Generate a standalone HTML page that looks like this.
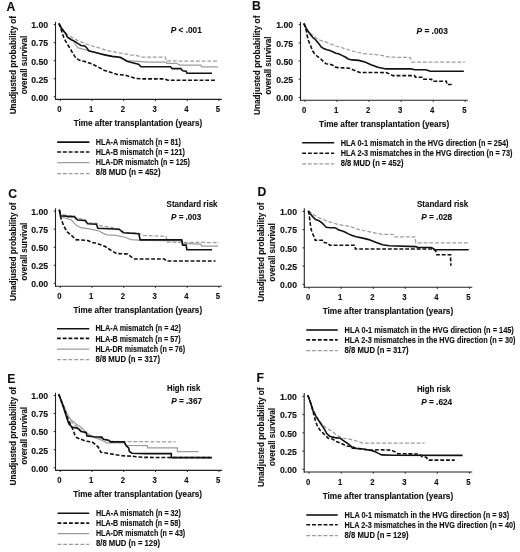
<!DOCTYPE html>
<html><head><meta charset="utf-8"><style>
html,body{margin:0;padding:0;background:#fff;}
svg{display:block;}
text{font-family:"Liberation Sans", sans-serif;fill:#111;stroke:#111;stroke-width:0.12px;}
svg{will-change:transform;}
</style></head><body>
<svg width="520" height="552" viewBox="0 0 520 552">
<rect width="520" height="552" fill="#fff"/>
<text x="6.60" y="10.70" font-size="12.2" font-weight="bold">A</text>
<text x="252.00" y="9.80" font-size="12.2" font-weight="bold">B</text>
<text x="8.30" y="197.60" font-size="12.2" font-weight="bold">C</text>
<text x="257.40" y="195.60" font-size="12.2" font-weight="bold">D</text>
<text x="7.30" y="382.80" font-size="12.2" font-weight="bold">E</text>
<text x="256.40" y="382.00" font-size="12.2" font-weight="bold">F</text>
<text transform="translate(15.90,114.30) rotate(-90)" x="0" y="0" font-size="8.6" font-weight="bold" textLength="98.30" lengthAdjust="spacingAndGlyphs">Unadjusted probability of</text>
<text transform="translate(26.90,94.30) rotate(-90)" x="0" y="0" font-size="8.6" font-weight="bold" textLength="58.50" lengthAdjust="spacingAndGlyphs">overall survival</text>
<text transform="translate(260.30,115.00) rotate(-90)" x="0" y="0" font-size="8.6" font-weight="bold" textLength="99.40" lengthAdjust="spacingAndGlyphs">Unadjusted probability of</text>
<text transform="translate(270.50,94.60) rotate(-90)" x="0" y="0" font-size="8.6" font-weight="bold" textLength="58.00" lengthAdjust="spacingAndGlyphs">overall survival</text>
<text transform="translate(15.90,301.00) rotate(-90)" x="0" y="0" font-size="8.6" font-weight="bold" textLength="98.50" lengthAdjust="spacingAndGlyphs">Unadjusted probability of</text>
<text transform="translate(26.90,280.50) rotate(-90)" x="0" y="0" font-size="8.6" font-weight="bold" textLength="57.80" lengthAdjust="spacingAndGlyphs">overall survival</text>
<text transform="translate(264.30,301.80) rotate(-90)" x="0" y="0" font-size="8.6" font-weight="bold" textLength="99.30" lengthAdjust="spacingAndGlyphs">Unadjusted probability of</text>
<text transform="translate(275.30,281.40) rotate(-90)" x="0" y="0" font-size="8.6" font-weight="bold" textLength="58.20" lengthAdjust="spacingAndGlyphs">overall survival</text>
<text transform="translate(15.90,485.50) rotate(-90)" x="0" y="0" font-size="8.6" font-weight="bold" textLength="98.60" lengthAdjust="spacingAndGlyphs">Unadjusted probability of</text>
<text transform="translate(26.90,464.50) rotate(-90)" x="0" y="0" font-size="8.6" font-weight="bold" textLength="57.50" lengthAdjust="spacingAndGlyphs">overall survival</text>
<text transform="translate(264.30,487.00) rotate(-90)" x="0" y="0" font-size="8.6" font-weight="bold" textLength="99.60" lengthAdjust="spacingAndGlyphs">Unadjusted probability of</text>
<text transform="translate(275.30,466.10) rotate(-90)" x="0" y="0" font-size="8.6" font-weight="bold" textLength="58.00" lengthAdjust="spacingAndGlyphs">overall survival</text>
<text x="31.30" y="100.60" font-size="8.3" font-weight="bold" textLength="16.90" lengthAdjust="spacingAndGlyphs">0.00</text>
<text x="31.30" y="82.55" font-size="8.3" font-weight="bold" textLength="16.90" lengthAdjust="spacingAndGlyphs">0.25</text>
<text x="31.30" y="64.50" font-size="8.3" font-weight="bold" textLength="16.90" lengthAdjust="spacingAndGlyphs">0.50</text>
<text x="31.30" y="46.45" font-size="8.3" font-weight="bold" textLength="16.90" lengthAdjust="spacingAndGlyphs">0.75</text>
<text x="31.30" y="28.40" font-size="8.3" font-weight="bold" textLength="16.90" lengthAdjust="spacingAndGlyphs">1.00</text>
<text x="57.25" y="112.40" font-size="8.3" font-weight="bold" textLength="4.30" lengthAdjust="spacingAndGlyphs">0</text>
<text x="88.97" y="112.40" font-size="8.3" font-weight="bold" textLength="4.30" lengthAdjust="spacingAndGlyphs">1</text>
<text x="120.69" y="112.40" font-size="8.3" font-weight="bold" textLength="4.30" lengthAdjust="spacingAndGlyphs">2</text>
<text x="152.41" y="112.40" font-size="8.3" font-weight="bold" textLength="4.30" lengthAdjust="spacingAndGlyphs">3</text>
<text x="184.13" y="112.40" font-size="8.3" font-weight="bold" textLength="4.30" lengthAdjust="spacingAndGlyphs">4</text>
<text x="215.85" y="112.40" font-size="8.3" font-weight="bold" textLength="4.30" lengthAdjust="spacingAndGlyphs">5</text>
<text x="276.30" y="101.20" font-size="8.3" font-weight="bold" textLength="16.90" lengthAdjust="spacingAndGlyphs">0.00</text>
<text x="276.30" y="83.00" font-size="8.3" font-weight="bold" textLength="16.90" lengthAdjust="spacingAndGlyphs">0.25</text>
<text x="276.30" y="64.80" font-size="8.3" font-weight="bold" textLength="16.90" lengthAdjust="spacingAndGlyphs">0.50</text>
<text x="276.30" y="46.60" font-size="8.3" font-weight="bold" textLength="16.90" lengthAdjust="spacingAndGlyphs">0.75</text>
<text x="276.30" y="28.40" font-size="8.3" font-weight="bold" textLength="16.90" lengthAdjust="spacingAndGlyphs">1.00</text>
<text x="301.95" y="113.30" font-size="8.3" font-weight="bold" textLength="4.30" lengthAdjust="spacingAndGlyphs">0</text>
<text x="333.99" y="113.30" font-size="8.3" font-weight="bold" textLength="4.30" lengthAdjust="spacingAndGlyphs">1</text>
<text x="366.03" y="113.30" font-size="8.3" font-weight="bold" textLength="4.30" lengthAdjust="spacingAndGlyphs">2</text>
<text x="398.07" y="113.30" font-size="8.3" font-weight="bold" textLength="4.30" lengthAdjust="spacingAndGlyphs">3</text>
<text x="430.11" y="113.30" font-size="8.3" font-weight="bold" textLength="4.30" lengthAdjust="spacingAndGlyphs">4</text>
<text x="462.15" y="113.30" font-size="8.3" font-weight="bold" textLength="4.30" lengthAdjust="spacingAndGlyphs">5</text>
<text x="31.30" y="287.10" font-size="8.3" font-weight="bold" textLength="16.90" lengthAdjust="spacingAndGlyphs">0.00</text>
<text x="31.30" y="269.07" font-size="8.3" font-weight="bold" textLength="16.90" lengthAdjust="spacingAndGlyphs">0.25</text>
<text x="31.30" y="251.05" font-size="8.3" font-weight="bold" textLength="16.90" lengthAdjust="spacingAndGlyphs">0.50</text>
<text x="31.30" y="233.03" font-size="8.3" font-weight="bold" textLength="16.90" lengthAdjust="spacingAndGlyphs">0.75</text>
<text x="31.30" y="215.00" font-size="8.3" font-weight="bold" textLength="16.90" lengthAdjust="spacingAndGlyphs">1.00</text>
<text x="57.25" y="299.20" font-size="8.3" font-weight="bold" textLength="4.30" lengthAdjust="spacingAndGlyphs">0</text>
<text x="88.97" y="299.20" font-size="8.3" font-weight="bold" textLength="4.30" lengthAdjust="spacingAndGlyphs">1</text>
<text x="120.69" y="299.20" font-size="8.3" font-weight="bold" textLength="4.30" lengthAdjust="spacingAndGlyphs">2</text>
<text x="152.41" y="299.20" font-size="8.3" font-weight="bold" textLength="4.30" lengthAdjust="spacingAndGlyphs">3</text>
<text x="184.13" y="299.20" font-size="8.3" font-weight="bold" textLength="4.30" lengthAdjust="spacingAndGlyphs">4</text>
<text x="215.85" y="299.20" font-size="8.3" font-weight="bold" textLength="4.30" lengthAdjust="spacingAndGlyphs">5</text>
<text x="280.10" y="288.10" font-size="8.3" font-weight="bold" textLength="16.90" lengthAdjust="spacingAndGlyphs">0.00</text>
<text x="280.10" y="269.88" font-size="8.3" font-weight="bold" textLength="16.90" lengthAdjust="spacingAndGlyphs">0.25</text>
<text x="280.10" y="251.65" font-size="8.3" font-weight="bold" textLength="16.90" lengthAdjust="spacingAndGlyphs">0.50</text>
<text x="280.10" y="233.43" font-size="8.3" font-weight="bold" textLength="16.90" lengthAdjust="spacingAndGlyphs">0.75</text>
<text x="280.10" y="215.20" font-size="8.3" font-weight="bold" textLength="16.90" lengthAdjust="spacingAndGlyphs">1.00</text>
<text x="306.05" y="300.20" font-size="8.3" font-weight="bold" textLength="4.30" lengthAdjust="spacingAndGlyphs">0</text>
<text x="338.11" y="300.20" font-size="8.3" font-weight="bold" textLength="4.30" lengthAdjust="spacingAndGlyphs">1</text>
<text x="370.17" y="300.20" font-size="8.3" font-weight="bold" textLength="4.30" lengthAdjust="spacingAndGlyphs">2</text>
<text x="402.23" y="300.20" font-size="8.3" font-weight="bold" textLength="4.30" lengthAdjust="spacingAndGlyphs">3</text>
<text x="434.29" y="300.20" font-size="8.3" font-weight="bold" textLength="4.30" lengthAdjust="spacingAndGlyphs">4</text>
<text x="466.35" y="300.20" font-size="8.3" font-weight="bold" textLength="4.30" lengthAdjust="spacingAndGlyphs">5</text>
<text x="31.30" y="471.60" font-size="8.3" font-weight="bold" textLength="16.90" lengthAdjust="spacingAndGlyphs">0.00</text>
<text x="31.30" y="453.50" font-size="8.3" font-weight="bold" textLength="16.90" lengthAdjust="spacingAndGlyphs">0.25</text>
<text x="31.30" y="435.40" font-size="8.3" font-weight="bold" textLength="16.90" lengthAdjust="spacingAndGlyphs">0.50</text>
<text x="31.30" y="417.30" font-size="8.3" font-weight="bold" textLength="16.90" lengthAdjust="spacingAndGlyphs">0.75</text>
<text x="31.30" y="399.20" font-size="8.3" font-weight="bold" textLength="16.90" lengthAdjust="spacingAndGlyphs">1.00</text>
<text x="57.25" y="483.40" font-size="8.3" font-weight="bold" textLength="4.30" lengthAdjust="spacingAndGlyphs">0</text>
<text x="89.01" y="483.40" font-size="8.3" font-weight="bold" textLength="4.30" lengthAdjust="spacingAndGlyphs">1</text>
<text x="120.77" y="483.40" font-size="8.3" font-weight="bold" textLength="4.30" lengthAdjust="spacingAndGlyphs">2</text>
<text x="152.53" y="483.40" font-size="8.3" font-weight="bold" textLength="4.30" lengthAdjust="spacingAndGlyphs">3</text>
<text x="184.29" y="483.40" font-size="8.3" font-weight="bold" textLength="4.30" lengthAdjust="spacingAndGlyphs">4</text>
<text x="216.05" y="483.40" font-size="8.3" font-weight="bold" textLength="4.30" lengthAdjust="spacingAndGlyphs">5</text>
<text x="280.00" y="473.10" font-size="8.3" font-weight="bold" textLength="16.90" lengthAdjust="spacingAndGlyphs">0.00</text>
<text x="280.00" y="454.88" font-size="8.3" font-weight="bold" textLength="16.90" lengthAdjust="spacingAndGlyphs">0.25</text>
<text x="280.00" y="436.65" font-size="8.3" font-weight="bold" textLength="16.90" lengthAdjust="spacingAndGlyphs">0.50</text>
<text x="280.00" y="418.43" font-size="8.3" font-weight="bold" textLength="16.90" lengthAdjust="spacingAndGlyphs">0.75</text>
<text x="280.00" y="400.20" font-size="8.3" font-weight="bold" textLength="16.90" lengthAdjust="spacingAndGlyphs">1.00</text>
<text x="306.05" y="485.00" font-size="8.3" font-weight="bold" textLength="4.30" lengthAdjust="spacingAndGlyphs">0</text>
<text x="338.11" y="485.00" font-size="8.3" font-weight="bold" textLength="4.30" lengthAdjust="spacingAndGlyphs">1</text>
<text x="370.17" y="485.00" font-size="8.3" font-weight="bold" textLength="4.30" lengthAdjust="spacingAndGlyphs">2</text>
<text x="402.23" y="485.00" font-size="8.3" font-weight="bold" textLength="4.30" lengthAdjust="spacingAndGlyphs">3</text>
<text x="434.29" y="485.00" font-size="8.3" font-weight="bold" textLength="4.30" lengthAdjust="spacingAndGlyphs">4</text>
<text x="466.35" y="485.00" font-size="8.3" font-weight="bold" textLength="4.30" lengthAdjust="spacingAndGlyphs">5</text>
<text x="73.70" y="125.90" font-size="8.8" font-weight="bold" textLength="128.50" lengthAdjust="spacingAndGlyphs">Time after transplantation (years)</text>
<text x="319.00" y="126.80" font-size="8.8" font-weight="bold" textLength="130.20" lengthAdjust="spacingAndGlyphs">Time after transplantation (years)</text>
<text x="73.50" y="312.70" font-size="8.8" font-weight="bold" textLength="128.60" lengthAdjust="spacingAndGlyphs">Time after transplantation (years)</text>
<text x="322.70" y="313.70" font-size="8.8" font-weight="bold" textLength="130.50" lengthAdjust="spacingAndGlyphs">Time after transplantation (years)</text>
<text x="73.20" y="496.90" font-size="8.8" font-weight="bold" textLength="128.90" lengthAdjust="spacingAndGlyphs">Time after transplantation (years)</text>
<text x="322.70" y="498.50" font-size="8.8" font-weight="bold" textLength="130.50" lengthAdjust="spacingAndGlyphs">Time after transplantation (years)</text>
<text x="170.75" y="33.40" font-size="8.6" font-weight="bold" textLength="31.00" lengthAdjust="spacingAndGlyphs"><tspan font-style="italic">P</tspan> &lt; .001</text>
<text x="416.50" y="33.80" font-size="8.6" font-weight="bold" textLength="31.40" lengthAdjust="spacingAndGlyphs"><tspan font-style="italic">P</tspan> = .003</text>
<text x="166.60" y="206.60" font-size="8.6" font-weight="bold" textLength="50.90" lengthAdjust="spacingAndGlyphs">Standard risk</text>
<text x="171.00" y="219.60" font-size="8.6" font-weight="bold" textLength="30.40" lengthAdjust="spacingAndGlyphs"><tspan font-style="italic">P</tspan> = .003</text>
<text x="416.90" y="207.10" font-size="8.6" font-weight="bold" textLength="51.40" lengthAdjust="spacingAndGlyphs">Standard risk</text>
<text x="421.20" y="220.30" font-size="8.6" font-weight="bold" textLength="31.00" lengthAdjust="spacingAndGlyphs"><tspan font-style="italic">P</tspan> = .028</text>
<text x="167.10" y="391.30" font-size="8.6" font-weight="bold" textLength="33.10" lengthAdjust="spacingAndGlyphs">High risk</text>
<text x="171.20" y="403.90" font-size="8.6" font-weight="bold" textLength="30.90" lengthAdjust="spacingAndGlyphs"><tspan font-style="italic">P</tspan> = .367</text>
<text x="416.90" y="391.60" font-size="8.6" font-weight="bold" textLength="33.60" lengthAdjust="spacingAndGlyphs">High risk</text>
<text x="421.20" y="404.80" font-size="8.6" font-weight="bold" textLength="31.00" lengthAdjust="spacingAndGlyphs"><tspan font-style="italic">P</tspan> = .624</text>
<line x1="57.20" y1="142.10" x2="89.40" y2="142.10" stroke="#111" stroke-width="1.6"/>
<text x="95.80" y="145.10" font-size="8.5" font-weight="bold" textLength="85.20" lengthAdjust="spacingAndGlyphs">HLA-A mismatch (n = 81)</text>
<line x1="57.20" y1="152.00" x2="89.40" y2="152.00" stroke="#111" stroke-width="1.6" stroke-dasharray="3.85 1.9"/>
<text x="95.80" y="154.90" font-size="8.5" font-weight="bold" textLength="89.00" lengthAdjust="spacingAndGlyphs">HLA-B mismatch (n = 121)</text>
<line x1="57.20" y1="162.60" x2="89.40" y2="162.60" stroke="#9c9c9c" stroke-width="1.25"/>
<text x="95.80" y="164.80" font-size="8.5" font-weight="bold" textLength="94.20" lengthAdjust="spacingAndGlyphs">HLA-DR mismatch (n = 125)</text>
<line x1="57.20" y1="173.50" x2="89.40" y2="173.50" stroke="#9c9c9c" stroke-width="1.25" stroke-dasharray="3.85 1.9"/>
<text x="95.80" y="174.80" font-size="8.5" font-weight="bold" textLength="64.70" lengthAdjust="spacingAndGlyphs">8/8 MUD (n = 452)</text>
<line x1="302.20" y1="142.80" x2="334.20" y2="142.80" stroke="#111" stroke-width="1.6"/>
<text x="340.70" y="145.80" font-size="8.5" font-weight="bold" textLength="167.80" lengthAdjust="spacingAndGlyphs">HLA 0-1 mismatch in the HVG direction (n = 254)</text>
<line x1="302.20" y1="153.30" x2="334.20" y2="153.30" stroke="#111" stroke-width="1.6" stroke-dasharray="3.85 1.9"/>
<text x="340.70" y="155.80" font-size="8.5" font-weight="bold" textLength="171.70" lengthAdjust="spacingAndGlyphs">HLA 2-3 mismatches in the HVG direction (n = 73)</text>
<line x1="302.20" y1="163.90" x2="334.20" y2="163.90" stroke="#9c9c9c" stroke-width="1.25" stroke-dasharray="3.85 1.9"/>
<text x="340.70" y="166.20" font-size="8.5" font-weight="bold" textLength="62.80" lengthAdjust="spacingAndGlyphs">8/8 MUD (n = 452)</text>
<line x1="57.00" y1="328.70" x2="89.20" y2="328.70" stroke="#111" stroke-width="1.6"/>
<text x="95.40" y="331.40" font-size="8.5" font-weight="bold" textLength="85.60" lengthAdjust="spacingAndGlyphs">HLA-A mismatch (n = 42)</text>
<line x1="57.00" y1="338.40" x2="89.20" y2="338.40" stroke="#111" stroke-width="1.6" stroke-dasharray="3.85 1.9"/>
<text x="95.40" y="342.00" font-size="8.5" font-weight="bold" textLength="85.20" lengthAdjust="spacingAndGlyphs">HLA-B mismatch (n = 57)</text>
<line x1="57.00" y1="349.00" x2="89.20" y2="349.00" stroke="#9c9c9c" stroke-width="1.25"/>
<text x="95.40" y="351.90" font-size="8.5" font-weight="bold" textLength="89.80" lengthAdjust="spacingAndGlyphs">HLA-DR mismatch (n = 76)</text>
<line x1="57.00" y1="359.70" x2="89.20" y2="359.70" stroke="#9c9c9c" stroke-width="1.25" stroke-dasharray="3.85 1.9"/>
<text x="95.40" y="362.00" font-size="8.5" font-weight="bold" textLength="64.60" lengthAdjust="spacingAndGlyphs">8/8 MUD (n = 317)</text>
<line x1="306.30" y1="330.00" x2="337.70" y2="330.00" stroke="#111" stroke-width="1.6"/>
<text x="344.60" y="333.00" font-size="8.5" font-weight="bold" textLength="169.20" lengthAdjust="spacingAndGlyphs">HLA 0-1 mismatch in the HVG direction (n = 145)</text>
<line x1="306.30" y1="339.90" x2="337.70" y2="339.90" stroke="#111" stroke-width="1.6" stroke-dasharray="3.85 1.9"/>
<text x="344.60" y="343.00" font-size="8.5" font-weight="bold" textLength="170.80" lengthAdjust="spacingAndGlyphs">HLA 2-3 mismatches in the HVG direction (n = 30)</text>
<line x1="306.30" y1="350.60" x2="337.70" y2="350.60" stroke="#9c9c9c" stroke-width="1.25" stroke-dasharray="3.85 1.9"/>
<text x="344.60" y="353.00" font-size="8.5" font-weight="bold" textLength="63.90" lengthAdjust="spacingAndGlyphs">8/8 MUD (n = 317)</text>
<line x1="57.50" y1="513.20" x2="89.20" y2="513.20" stroke="#111" stroke-width="1.6"/>
<text x="96.00" y="515.60" font-size="8.5" font-weight="bold" textLength="85.00" lengthAdjust="spacingAndGlyphs">HLA-A mismatch (n = 32)</text>
<line x1="57.50" y1="523.10" x2="89.20" y2="523.10" stroke="#111" stroke-width="1.6" stroke-dasharray="3.85 1.9"/>
<text x="96.00" y="526.40" font-size="8.5" font-weight="bold" textLength="84.60" lengthAdjust="spacingAndGlyphs">HLA-B mismatch (n = 58)</text>
<line x1="57.50" y1="533.50" x2="89.20" y2="533.50" stroke="#9c9c9c" stroke-width="1.25"/>
<text x="96.00" y="536.30" font-size="8.5" font-weight="bold" textLength="89.20" lengthAdjust="spacingAndGlyphs">HLA-DR mismatch (n = 43)</text>
<line x1="57.50" y1="544.40" x2="89.20" y2="544.40" stroke="#9c9c9c" stroke-width="1.25" stroke-dasharray="3.85 1.9"/>
<text x="96.00" y="546.40" font-size="8.5" font-weight="bold" textLength="64.00" lengthAdjust="spacingAndGlyphs">8/8 MUD (n = 129)</text>
<line x1="306.30" y1="515.00" x2="337.70" y2="515.00" stroke="#111" stroke-width="1.6"/>
<text x="344.60" y="517.60" font-size="8.5" font-weight="bold" textLength="164.60" lengthAdjust="spacingAndGlyphs">HLA 0-1 mismatch in the HVG direction (n = 93)</text>
<line x1="306.30" y1="524.80" x2="337.70" y2="524.80" stroke="#111" stroke-width="1.6" stroke-dasharray="3.85 1.9"/>
<text x="344.60" y="527.70" font-size="8.5" font-weight="bold" textLength="170.80" lengthAdjust="spacingAndGlyphs">HLA 2-3 mismatches in the HVG direction (n = 40)</text>
<line x1="306.30" y1="535.50" x2="337.70" y2="535.50" stroke="#9c9c9c" stroke-width="1.25" stroke-dasharray="3.85 1.9"/>
<text x="344.60" y="537.90" font-size="8.5" font-weight="bold" textLength="63.90" lengthAdjust="spacingAndGlyphs">8/8 MUD (n = 129)</text>
<line x1="55.50" y1="21.80" x2="55.50" y2="99.90" stroke="#222" stroke-width="1.1"/>
<line x1="55.00" y1="99.40" x2="221.80" y2="99.40" stroke="#222" stroke-width="1.1"/>
<line x1="53.70" y1="96.80" x2="55.50" y2="96.80" stroke="#222" stroke-width="1.0"/>
<line x1="53.70" y1="78.75" x2="55.50" y2="78.75" stroke="#222" stroke-width="1.0"/>
<line x1="53.70" y1="60.70" x2="55.50" y2="60.70" stroke="#222" stroke-width="1.0"/>
<line x1="53.70" y1="42.65" x2="55.50" y2="42.65" stroke="#222" stroke-width="1.0"/>
<line x1="53.70" y1="24.60" x2="55.50" y2="24.60" stroke="#222" stroke-width="1.0"/>
<line x1="60.30" y1="99.40" x2="60.30" y2="101.00" stroke="#222" stroke-width="1.0"/>
<line x1="92.02" y1="99.40" x2="92.02" y2="101.00" stroke="#222" stroke-width="1.0"/>
<line x1="123.74" y1="99.40" x2="123.74" y2="101.00" stroke="#222" stroke-width="1.0"/>
<line x1="155.46" y1="99.40" x2="155.46" y2="101.00" stroke="#222" stroke-width="1.0"/>
<line x1="187.18" y1="99.40" x2="187.18" y2="101.00" stroke="#222" stroke-width="1.0"/>
<line x1="218.90" y1="99.40" x2="218.90" y2="101.00" stroke="#222" stroke-width="1.0"/>
<polyline points="58.9,23.4 63.7,30.6 68.5,35.4 73.3,38.3 78.1,40.7 82.9,42.6 87.7,44.5 92.5,46.0 97.3,47.4 102.2,48.8 106.0,50.3 109.0,50.9 120.4,53.1 130.2,54.8 135.0,55.2 140.0,56.6 141.9,57.0 165.3,57.0 166.2,60.8 178.3,61.1 219.0,61.1" fill="none" stroke="#9c9c9c" stroke-width="1.25" stroke-dasharray="3.85 1.9" stroke-linejoin="miter"/>
<polyline points="58.9,23.4 61.8,28.7 65.6,33.5 67.5,37.3 71.4,39.7 73.3,40.4 75.2,44.0 78.1,47.9 82.0,48.8 85.8,49.8 88.7,50.8 95.0,52.3 104.0,54.8 120.4,58.0 126.9,60.5 135.0,61.1 147.1,62.2 166.2,62.2 167.0,63.4 176.5,63.4 180.0,65.1 200.8,65.1 201.6,66.8 217.7,66.8" fill="none" stroke="#9c9c9c" stroke-width="1.25" stroke-linejoin="miter"/>
<polyline points="58.9,23.4 61.8,31.5 63.7,37.3 65.6,41.2 68.5,46.0 71.4,50.8 74.3,55.6 76.2,58.5 80.0,60.4 83.9,61.3 87.7,62.3 92.5,64.2 96.4,66.2 101.2,68.6 104.0,70.3 112.2,72.8 117.1,74.4 125.3,75.2 133.5,77.7 135.0,78.4 141.9,78.9 164.4,78.9 167.9,80.3 215.5,80.3" fill="none" stroke="#111" stroke-width="1.6" stroke-dasharray="3.85 1.9" stroke-linejoin="miter"/>
<polyline points="58.9,23.4 61.8,28.7 65.6,33.5 67.5,37.3 71.4,39.7 75.2,41.6 78.1,43.6 81.0,45.5 84.8,46.0 86.8,47.9 88.7,50.8 92.5,51.7 96.4,52.7 100.2,53.7 106.0,55.1 112.2,56.4 120.4,57.2 126.9,61.3 133.5,63.0 138.5,64.2 141.1,66.8 170.5,66.8 172.2,68.6 180.9,68.6 182.6,70.8 186.1,71.2 186.9,73.2 212.0,73.2" fill="none" stroke="#111" stroke-width="1.6" stroke-linejoin="miter"/>
<line x1="300.50" y1="21.90" x2="300.50" y2="100.80" stroke="#222" stroke-width="1.1"/>
<line x1="300.00" y1="100.30" x2="467.80" y2="100.30" stroke="#222" stroke-width="1.1"/>
<line x1="298.70" y1="97.40" x2="300.50" y2="97.40" stroke="#222" stroke-width="1.0"/>
<line x1="298.70" y1="79.20" x2="300.50" y2="79.20" stroke="#222" stroke-width="1.0"/>
<line x1="298.70" y1="61.00" x2="300.50" y2="61.00" stroke="#222" stroke-width="1.0"/>
<line x1="298.70" y1="42.80" x2="300.50" y2="42.80" stroke="#222" stroke-width="1.0"/>
<line x1="298.70" y1="24.60" x2="300.50" y2="24.60" stroke="#222" stroke-width="1.0"/>
<line x1="305.00" y1="100.30" x2="305.00" y2="101.90" stroke="#222" stroke-width="1.0"/>
<line x1="337.04" y1="100.30" x2="337.04" y2="101.90" stroke="#222" stroke-width="1.0"/>
<line x1="369.08" y1="100.30" x2="369.08" y2="101.90" stroke="#222" stroke-width="1.0"/>
<line x1="401.12" y1="100.30" x2="401.12" y2="101.90" stroke="#222" stroke-width="1.0"/>
<line x1="433.16" y1="100.30" x2="433.16" y2="101.90" stroke="#222" stroke-width="1.0"/>
<line x1="465.20" y1="100.30" x2="465.20" y2="101.90" stroke="#222" stroke-width="1.0"/>
<polyline points="303.9,23.4 307.8,30.6 311.6,34.4 316.4,38.3 321.2,40.7 326.0,42.1 330.8,44.0 335.7,46.0 340.5,47.4 345.3,48.8 352.0,50.8 362.3,53.5 372.7,54.3 380.0,55.0 388.7,57.1 410.3,57.5 412.0,62.0 464.8,62.0" fill="none" stroke="#9c9c9c" stroke-width="1.25" stroke-dasharray="3.85 1.9" stroke-linejoin="miter"/>
<polyline points="303.9,23.4 306.3,30.6 307.3,36.3 308.7,41.2 310.7,46.0 312.6,50.8 314.5,53.7 317.4,56.5 320.3,58.5 323.2,61.3 326.0,63.8 329.9,64.2 332.8,65.2 334.7,67.1 338.5,67.6 343.3,67.9 349.3,68.2 355.4,70.8 359.7,72.5 380.0,72.5 386.9,72.7 393.0,75.6 414.6,75.6 415.5,77.2 422.9,77.3 423.8,79.2 431.5,79.2 432.5,81.2 446.4,81.2 446.9,84.5 452.2,84.5" fill="none" stroke="#111" stroke-width="1.6" stroke-dasharray="3.85 1.9" stroke-linejoin="miter"/>
<polyline points="303.9,23.4 306.8,29.6 309.7,33.5 312.6,37.3 315.5,39.7 318.3,43.1 321.2,46.9 324.1,48.8 327.0,49.8 329.9,50.6 332.8,51.7 335.7,53.2 338.5,53.7 342.4,55.6 345.3,57.0 348.2,58.9 352.0,59.9 358.8,60.4 364.9,62.1 371.0,64.7 377.9,67.3 384.8,68.7 386.9,68.9 411.2,68.9 414.6,69.7 425.9,69.7 430.2,71.3 463.9,71.3" fill="none" stroke="#111" stroke-width="1.6" stroke-linejoin="miter"/>
<line x1="55.50" y1="208.30" x2="55.50" y2="286.70" stroke="#222" stroke-width="1.1"/>
<line x1="55.00" y1="286.20" x2="221.80" y2="286.20" stroke="#222" stroke-width="1.1"/>
<line x1="53.70" y1="283.30" x2="55.50" y2="283.30" stroke="#222" stroke-width="1.0"/>
<line x1="53.70" y1="265.27" x2="55.50" y2="265.27" stroke="#222" stroke-width="1.0"/>
<line x1="53.70" y1="247.25" x2="55.50" y2="247.25" stroke="#222" stroke-width="1.0"/>
<line x1="53.70" y1="229.22" x2="55.50" y2="229.22" stroke="#222" stroke-width="1.0"/>
<line x1="53.70" y1="211.20" x2="55.50" y2="211.20" stroke="#222" stroke-width="1.0"/>
<line x1="60.30" y1="286.20" x2="60.30" y2="287.80" stroke="#222" stroke-width="1.0"/>
<line x1="92.02" y1="286.20" x2="92.02" y2="287.80" stroke="#222" stroke-width="1.0"/>
<line x1="123.74" y1="286.20" x2="123.74" y2="287.80" stroke="#222" stroke-width="1.0"/>
<line x1="155.46" y1="286.20" x2="155.46" y2="287.80" stroke="#222" stroke-width="1.0"/>
<line x1="187.18" y1="286.20" x2="187.18" y2="287.80" stroke="#222" stroke-width="1.0"/>
<line x1="218.90" y1="286.20" x2="218.90" y2="287.80" stroke="#222" stroke-width="1.0"/>
<polyline points="59.3,210.2 61.0,214.5 67.0,215.6 74.0,216.0 76.0,217.8 85.0,219.6 88.0,222.8 97.0,223.4 99.0,225.5 110.0,227.0 120.0,229.5 123.8,232.4 139.2,233.4 142.1,235.4 166.2,236.3 167.1,242.2 219.0,242.6" fill="none" stroke="#9c9c9c" stroke-width="1.25" stroke-dasharray="3.85 1.9" stroke-linejoin="miter"/>
<polyline points="59.3,210.2 60.8,216.6 66.6,218.5 71.4,220.0 76.2,225.3 81.0,227.7 90.7,229.1 99.3,231.0 103.2,233.4 107.0,234.9 115.6,235.3 124.2,237.0 131.2,239.6 138.1,240.1 145.0,240.5 182.6,241.0 182.6,243.4 200.8,244.2 201.6,246.0 218.0,246.0" fill="none" stroke="#9c9c9c" stroke-width="1.25" stroke-linejoin="miter"/>
<polyline points="59.3,210.2 61.1,218.8 63.7,225.8 67.1,231.8 72.3,236.2 75.8,239.6 87.9,240.5 91.3,242.2 98.3,243.9 105.2,246.5 110.4,250.0 116.4,253.5 127.7,254.0 131.2,256.9 134.6,259.0 164.4,259.0 166.2,261.0 215.5,261.0" fill="none" stroke="#111" stroke-width="1.6" stroke-dasharray="3.85 1.9" stroke-linejoin="miter"/>
<polyline points="59.4,209.4 60.4,215.7 66.6,216.1 67.6,216.6 74.3,216.6 75.8,218.5 77.7,220.0 84.9,220.5 87.8,223.8 96.4,224.3 97.9,228.2 119.0,229.2 123.4,232.7 138.8,233.8 140.2,239.9 181.7,239.9 182.6,245.1 186.1,245.1 186.9,249.8 212.0,249.8" fill="none" stroke="#111" stroke-width="1.6" stroke-linejoin="miter"/>
<line x1="304.30" y1="208.30" x2="304.30" y2="287.70" stroke="#222" stroke-width="1.1"/>
<line x1="303.80" y1="287.20" x2="472.30" y2="287.20" stroke="#222" stroke-width="1.1"/>
<line x1="302.50" y1="284.30" x2="304.30" y2="284.30" stroke="#222" stroke-width="1.0"/>
<line x1="302.50" y1="266.07" x2="304.30" y2="266.07" stroke="#222" stroke-width="1.0"/>
<line x1="302.50" y1="247.85" x2="304.30" y2="247.85" stroke="#222" stroke-width="1.0"/>
<line x1="302.50" y1="229.62" x2="304.30" y2="229.62" stroke="#222" stroke-width="1.0"/>
<line x1="302.50" y1="211.40" x2="304.30" y2="211.40" stroke="#222" stroke-width="1.0"/>
<line x1="309.10" y1="287.20" x2="309.10" y2="288.80" stroke="#222" stroke-width="1.0"/>
<line x1="341.16" y1="287.20" x2="341.16" y2="288.80" stroke="#222" stroke-width="1.0"/>
<line x1="373.22" y1="287.20" x2="373.22" y2="288.80" stroke="#222" stroke-width="1.0"/>
<line x1="405.28" y1="287.20" x2="405.28" y2="288.80" stroke="#222" stroke-width="1.0"/>
<line x1="437.34" y1="287.20" x2="437.34" y2="288.80" stroke="#222" stroke-width="1.0"/>
<line x1="469.40" y1="287.20" x2="469.40" y2="288.80" stroke="#222" stroke-width="1.0"/>
<polyline points="308.4,210.8 313.7,214.7 318.5,217.6 323.3,219.5 328.1,221.4 332.9,222.9 337.7,224.3 342.5,225.3 347.3,225.8 352.2,227.2 355.0,228.6 358.4,229.4 367.0,231.3 375.7,233.2 382.6,234.4 393.4,234.5 394.2,236.8 415.0,236.8 415.9,242.8 468.7,242.8" fill="none" stroke="#9c9c9c" stroke-width="1.25" stroke-dasharray="3.85 1.9" stroke-linejoin="miter"/>
<polyline points="308.4,210.8 309.4,216.6 310.3,224.3 311.3,230.1 312.7,233.9 314.7,237.8 315.1,240.2 323.3,240.2 324.3,242.6 328.1,243.1 329.6,245.3 354.9,245.3 355.4,249.0 433.2,249.0 435.8,251.0 436.7,254.8 450.5,254.8 450.8,265.7" fill="none" stroke="#111" stroke-width="1.6" stroke-dasharray="3.85 1.9" stroke-linejoin="miter"/>
<polyline points="308.4,210.8 309.8,213.3 312.7,216.6 315.6,219.5 318.5,220.5 321.4,222.4 324.3,225.3 326.2,227.2 330.0,227.7 334.8,227.7 336.8,228.6 338.7,230.1 342.5,231.0 345.4,232.2 348.3,233.9 352.2,235.4 356.0,236.8 361.8,237.9 368.8,239.6 375.7,242.2 382.6,244.8 389.1,245.8 415.9,246.6 417.6,247.5 431.5,247.5 434.9,249.7 468.7,249.7" fill="none" stroke="#111" stroke-width="1.6" stroke-linejoin="miter"/>
<line x1="55.50" y1="392.70" x2="55.50" y2="470.90" stroke="#222" stroke-width="1.1"/>
<line x1="55.00" y1="470.40" x2="222.10" y2="470.40" stroke="#222" stroke-width="1.1"/>
<line x1="53.70" y1="467.80" x2="55.50" y2="467.80" stroke="#222" stroke-width="1.0"/>
<line x1="53.70" y1="449.70" x2="55.50" y2="449.70" stroke="#222" stroke-width="1.0"/>
<line x1="53.70" y1="431.60" x2="55.50" y2="431.60" stroke="#222" stroke-width="1.0"/>
<line x1="53.70" y1="413.50" x2="55.50" y2="413.50" stroke="#222" stroke-width="1.0"/>
<line x1="53.70" y1="395.40" x2="55.50" y2="395.40" stroke="#222" stroke-width="1.0"/>
<line x1="60.30" y1="470.40" x2="60.30" y2="472.00" stroke="#222" stroke-width="1.0"/>
<line x1="92.06" y1="470.40" x2="92.06" y2="472.00" stroke="#222" stroke-width="1.0"/>
<line x1="123.82" y1="470.40" x2="123.82" y2="472.00" stroke="#222" stroke-width="1.0"/>
<line x1="155.58" y1="470.40" x2="155.58" y2="472.00" stroke="#222" stroke-width="1.0"/>
<line x1="187.34" y1="470.40" x2="187.34" y2="472.00" stroke="#222" stroke-width="1.0"/>
<line x1="219.10" y1="470.40" x2="219.10" y2="472.00" stroke="#222" stroke-width="1.0"/>
<polyline points="58.8,394.3 63.7,406.4 68.8,417.7 72.3,422.9 77.5,427.2 82.7,431.5 87.9,435.0 94.8,437.1 103.5,439.3 110.4,441.1 124.2,441.7 175.5,441.8" fill="none" stroke="#9c9c9c" stroke-width="1.25" stroke-dasharray="3.85 1.9" stroke-linejoin="miter"/>
<polyline points="58.8,394.3 63.7,405.6 67.1,414.2 70.6,419.4 75.8,423.7 81.0,427.2 86.2,432.4 89.6,435.0 94.8,437.6 101.7,440.2 106.9,442.8 124.2,442.8 126.0,445.4 147.5,445.6 147.5,447.8 177.4,447.8 177.4,451.6 198.7,451.6" fill="none" stroke="#9c9c9c" stroke-width="1.25" stroke-linejoin="miter"/>
<polyline points="58.8,394.3 63.7,407.3 68.0,419.4 72.3,428.1 74.9,435.0 76.6,437.6 81.0,439.3 85.3,441.1 92.2,441.9 98.3,447.1 100.9,452.3 106.9,453.2 113.8,454.4 122.5,455.8 131.2,456.1 136.3,456.8 145.0,457.4 210.0,457.6" fill="none" stroke="#111" stroke-width="1.6" stroke-dasharray="3.85 1.9" stroke-linejoin="miter"/>
<polyline points="58.8,394.3 62.8,405.6 66.2,416.0 68.8,423.7 72.3,427.2 77.5,428.1 81.0,431.5 86.2,432.4 87.0,435.9 93.9,436.7 101.7,437.1 103.5,439.3 108.7,440.2 110.4,441.9 124.2,441.9 126.0,445.4 128.6,448.0 129.4,451.4 132.0,453.2 145.0,453.6 171.3,453.6 171.3,457.6 212.0,457.6" fill="none" stroke="#111" stroke-width="1.6" stroke-linejoin="miter"/>
<line x1="304.20" y1="393.10" x2="304.20" y2="472.50" stroke="#222" stroke-width="1.1"/>
<line x1="303.70" y1="472.00" x2="472.20" y2="472.00" stroke="#222" stroke-width="1.1"/>
<line x1="302.40" y1="469.30" x2="304.20" y2="469.30" stroke="#222" stroke-width="1.0"/>
<line x1="302.40" y1="451.07" x2="304.20" y2="451.07" stroke="#222" stroke-width="1.0"/>
<line x1="302.40" y1="432.85" x2="304.20" y2="432.85" stroke="#222" stroke-width="1.0"/>
<line x1="302.40" y1="414.62" x2="304.20" y2="414.62" stroke="#222" stroke-width="1.0"/>
<line x1="302.40" y1="396.40" x2="304.20" y2="396.40" stroke="#222" stroke-width="1.0"/>
<line x1="309.10" y1="472.00" x2="309.10" y2="473.60" stroke="#222" stroke-width="1.0"/>
<line x1="341.16" y1="472.00" x2="341.16" y2="473.60" stroke="#222" stroke-width="1.0"/>
<line x1="373.22" y1="472.00" x2="373.22" y2="473.60" stroke="#222" stroke-width="1.0"/>
<line x1="405.28" y1="472.00" x2="405.28" y2="473.60" stroke="#222" stroke-width="1.0"/>
<line x1="437.34" y1="472.00" x2="437.34" y2="473.60" stroke="#222" stroke-width="1.0"/>
<line x1="469.40" y1="472.00" x2="469.40" y2="473.60" stroke="#222" stroke-width="1.0"/>
<polyline points="307.8,395.2 310.5,402.5 313.0,409.0 316.8,416.5 320.5,422.5 325.5,427.5 332.2,431.5 337.6,435.6 343.0,438.3 348.4,438.9 353.8,440.3 359.1,441.6 361.8,443.0 424.5,443.0" fill="none" stroke="#9c9c9c" stroke-width="1.25" stroke-dasharray="3.85 1.9" stroke-linejoin="miter"/>
<polyline points="307.8,395.2 310.0,401.0 312.2,408.0 314.0,415.4 315.4,420.8 317.4,426.2 320.1,430.2 322.8,432.9 325.5,435.6 328.2,438.3 332.2,438.9 336.3,441.6 340.3,443.0 343.0,444.3 345.7,445.7 348.4,446.3 352.4,446.8 356.0,448.2 363.6,449.4 372.2,450.2 379.2,449.7 391.7,450.2 396.0,452.3 397.7,453.7 419.3,454.0 421.9,456.6 426.3,457.2 428.3,460.1 454.8,460.1" fill="none" stroke="#111" stroke-width="1.6" stroke-dasharray="3.85 1.9" stroke-linejoin="miter"/>
<polyline points="307.8,395.2 310.3,402.0 312.7,410.0 316.1,416.7 318.8,420.8 321.5,424.8 324.2,428.8 326.8,433.6 329.5,436.2 334.9,437.6 340.3,438.3 343.0,440.3 347.0,443.0 351.1,446.3 352.4,448.2 361.8,448.8 367.2,449.7 371.3,450.4 375.3,451.7 378.0,453.1 381.7,454.9 393.0,455.3 462.6,455.4" fill="none" stroke="#111" stroke-width="1.6" stroke-linejoin="miter"/>
</svg>
</body></html>
